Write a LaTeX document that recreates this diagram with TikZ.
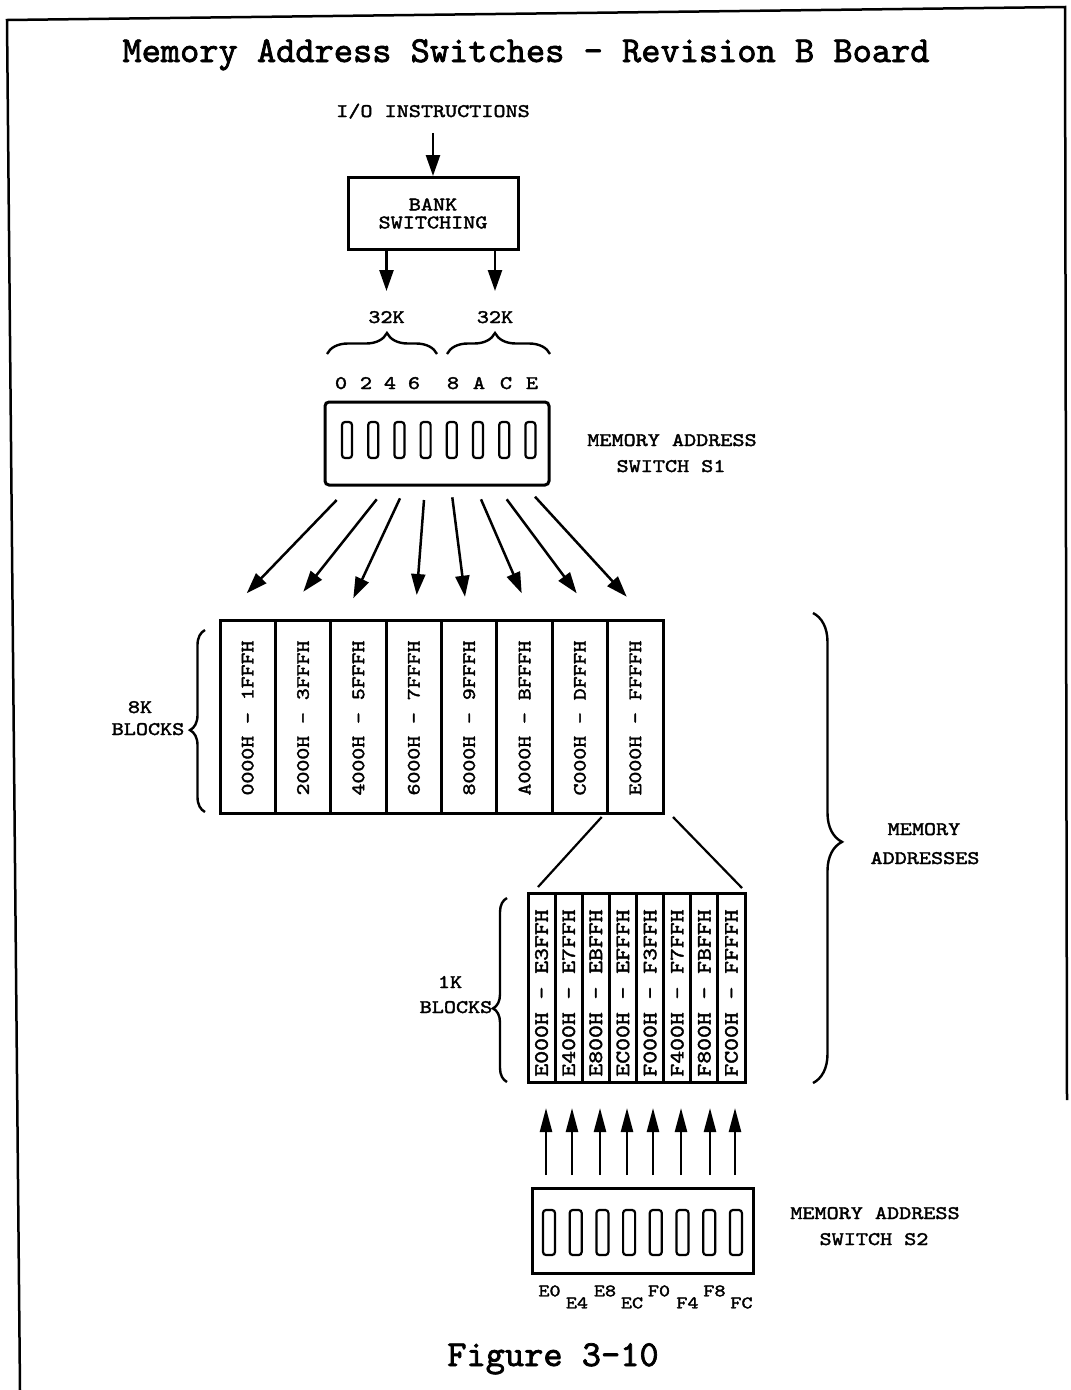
\documentclass[tikz,border=0pt]{standalone}
\usepackage{fontspec}
\newfontfamily\courfont[Extension=.otf,FakeStretch=1.2,FakeBold=2]{lmmono10-regular}
\newfontfamily\ttlfont[Extension=.otf,FakeBold=2]{lmmono10-regular}
\usetikzlibrary{arrows.meta,decorations.pathreplacing}
\begin{document}
\begin{tikzpicture}[x=1pt,y=-1pt,
  every node/.style={inner sep=0pt},
  txt/.style={font=\courfont\fontsize{19.2}{19.2}\selectfont, anchor=base},
  smalltxt/.style={font=\courfont\fontsize{17.5}{17.5}\selectfont, anchor=base},
  ttl/.style={font=\ttlfont\fontsize{36.6}{36.6}\selectfont, anchor=base},
  celltxta/.style={font=\courfont\fontsize{18.9}{18.9}\selectfont, rotate=90},
  celltxtb/.style={font=\courfont\fontsize{20.4}{20.4}\selectfont, rotate=90},
  arr/.style={line width=2.5pt, -{Triangle[length=21pt,width=14pt]}},
  arrup/.style={line width=2.4pt, -{Triangle[length=24pt,width=12pt]}},
  thickbox/.style={draw, line width=3pt},
  cellbox/.style={draw, line width=3pt},
  slot/.style={draw, line width=2.2pt, rounded corners=3pt},
  brc/.style={decorate, line width=2.4pt},
  frame/.style={line width=2.5pt},
  thinline/.style={line width=2.2pt}
]
\useasboundingbox (0,0) rectangle (1071,1390);

% frame
\draw[frame] (20,1390) -- (7,20) -- (1065,7) -- (1067,1100);

% title
\node[ttl] (title) at (526,62) {Memory Address Switches - Revision B Board};

% I/O and bank switching
\node[txt] (io) at (433,117) {I/O INSTRUCTIONS};
\node[thickbox, minimum width=170pt, minimum height=72pt, align=center,
      font=\courfont\fontsize{19.2}{18}\selectfont] (bank) at (433,213.5) {BANK\\SWITCHING};
\draw[arr] ([yshift=-14pt]io.south) -- (bank.north);

\node[txt] (k1) at (386.5,323) {32K};
\node[txt] (k2) at (495,323) {32K};
\coordinate (ta) at (386.5,291);
\coordinate (tb) at (495,291);
\draw[arr] (bank.south -| ta) -- (ta);
\draw[arr] (bank.south -| tb) -- (tb);

% braces under 32K
\coordinate (ba1) at (327,354); \coordinate (ba2) at (437,354);
\coordinate (bb1) at (447,354); \coordinate (bb2) at (550,354);
\draw[brc, decoration={brace, amplitude=21pt, aspect=0.545}] (ba1) -- (ba2);
\draw[brc, decoration={brace, amplitude=21pt, aspect=0.466}] (bb1) -- (bb2);

% digits
\foreach \x/\d in {341/0,366/2,390/4,414/6,453/8,479/A,506/C,532/E}
  \node[txt] (dig\d) at (\x,389) {\d};

% switch S1
\node[thickbox, rounded corners=4pt, minimum width=224pt, minimum height=83pt] (s1) at (437,443.5) {};
\foreach \i in {0,...,7}
  \node[slot, minimum width=10pt, minimum height=36pt] (sa\i) at ({347+26.2*\i},440) {};
\node[txt] (s1la) at (672,446) {MEMORY ADDRESS};
\node[txt] (s1lb) at (671,472) {SWITCH S1};

% arrows S1 -> 8K blocks
\foreach \n/\sx/\sy/\tx/\ty in {1/336.7/500/246.7/593.3, 2/376.7/499.3/303.3/591.7,
   3/400/498.3/353.3/598.3, 4/424/500/416.7/595, 5/452.3/497.3/465/596.7,
   6/481/499.3/521.7/593.3, 7/506.7/499.3/576.7/593.3, 8/535/496.7/626.7/596.7}{
  \coordinate (as\n) at (\sx,\sy);
  \coordinate (at\n) at (\tx,\ty);
  \draw[arr] (as\n) -- (at\n);
}

% 8K blocks
\foreach \i/\t in {0/0000H - 1FFFH,1/2000H - 3FFFH,2/4000H - 5FFFH,3/6000H - 7FFFH,
                   4/8000H - 9FFFH,5/A000H - BFFFH,6/C000H - DFFFH,7/E000H - FFFFH}{
  \node[cellbox, minimum width=55.375pt, minimum height=193pt] (c\i) at ({220+55.375*(\i+0.5)},716.5) {};
  \node[celltxta] (ct\i) at ({220+55.375*(\i+0.5)},718) {\t};
}
\coordinate (b8a) at (205,812); \coordinate (b8b) at (205,630);
\draw[brc, decoration={brace, amplitude=15pt, aspect=0.45}] (b8a) -- (b8b);
\node[txt] (l8a) at (140,713) {8K};
\node[txt] (l8b) at (148,735) {BLOCKS};

% lines to 1K blocks
\coordinate (la1) at (601.7,817); \coordinate (la2) at (538,887);
\coordinate (lb1) at (673,817); \coordinate (lb2) at (742,888);
\draw[thinline] (la1) -- (la2);
\draw[thinline] (lb1) -- (lb2);

% 1K blocks
\foreach \i/\t in {0/E000H - E3FFH,1/E400H - E7FFH,2/E800H - EBFFH,3/EC00H - EFFFH,
                   4/F000H - F3FFH,5/F400H - F7FFH,6/F800H - FBFFH,7/FC00H - FFFFH}{
  \node[cellbox, minimum width=27.125pt, minimum height=189pt] (m\i) at ({528+27.125*(\i+0.5)},987.5) {};
  \node[celltxtb] (mt\i) at ({528+27.125*(\i+0.5)},993) {\t};
}
\coordinate (b1a) at (507,1082); \coordinate (b1b) at (507,898);
\draw[brc, decoration={brace, amplitude=14pt, aspect=0.4}] (b1a) -- (b1b);
\node[txt] (l1a) at (450,988) {1K};
\node[txt] (l1b) at (456,1013) {BLOCKS};

% memory addresses brace
\coordinate (bma) at (813,613); \coordinate (bmb) at (813,1083);
\draw[brc, decoration={brace, amplitude=29pt, aspect=0.487}] (bma) -- (bmb);
\node[txt] (mema) at (924,835) {MEMORY};
\node[txt] (memb) at (925,864) {ADDRESSES};

% up arrows
\foreach \n/\x in {1/546,2/572,3/600,4/627,5/653,6/681,7/710,8/735}{
  \coordinate (us\n) at (\x,1175);
  \coordinate (ut\n) at (\x,1108);
  \draw[arrup] (us\n) -- (ut\n);
}

% switch S2
\node[thickbox, minimum width=221pt, minimum height=85pt] (s2) at (642.5,1230.5) {};
\foreach \i in {0,...,7}
  \node[slot, minimum width=12pt, minimum height=45pt] (sb\i) at ({549+26.7*\i},1232.5) {};
\node[txt] (s2la) at (875,1219) {MEMORY ADDRESS};
\node[txt] (s2lb) at (874,1245) {SWITCH S2};

\foreach \x/\y/\t in {549.5/1296.3/E0,577/1308.3/E4,605/1296.3/E8,632/1308.3/EC,
                      659/1296.3/F0,687.5/1308.3/F4,714.5/1296.3/F8,741.5/1308.3/FC}
  \node[smalltxt] (e\t) at (\x,\y) {\t};

% caption
\node[ttl] (fig) at (553,1366) {Figure 3-10};
\end{tikzpicture}
\end{document}
